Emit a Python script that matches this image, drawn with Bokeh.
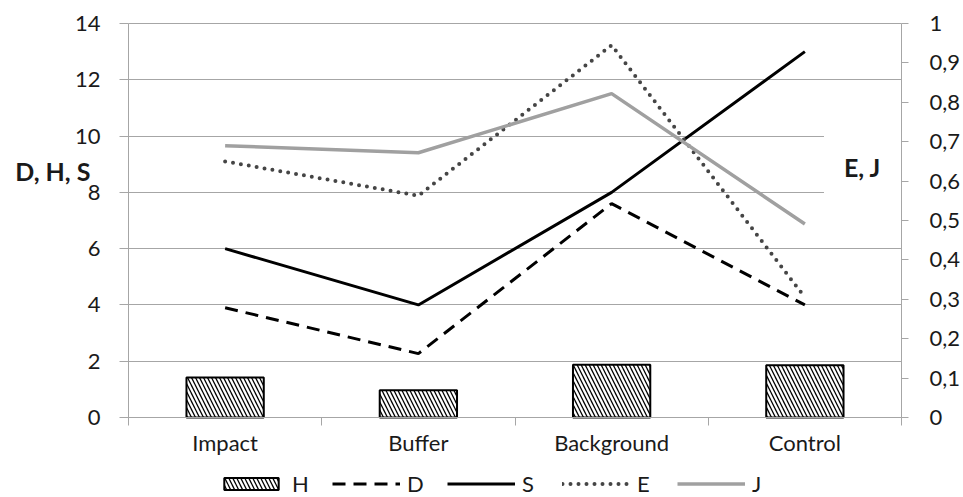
from bokeh.plotting import figure
from bokeh.models import Range1d, LinearAxis, FixedTicker, Legend, LegendItem, Label, Grid
from bokeh.embed import file_html
from bokeh.resources import INLINE
import numpy as np

categories = ["Impact", "Buffer", "Background", "Control"]
H = [1.42, 0.97, 1.87, 1.86]
D = [3.9, 2.27, 7.6, 4.0]
S = [6.0, 4.0, 8.0, 13.0]
E = [0.65, 0.563, 0.945, 0.305]
J = [0.69, 0.672, 0.822, 0.491]
left_ticks = [0, 2, 4, 6, 8, 10, 12, 14]
right_ticks = [0, 0.1, 0.2, 0.3, 0.4, 0.5, 0.6, 0.7, 0.8, 0.9, 1]
right_tick_labels = ["0", "0,1", "0,2", "0,3", "0,4", "0,5", "0,6", "0,7", "0,8", "0,9", "1"]
left_title = "D, H, S"
right_title = "E, J"
series_names = ["H", "D", "S", "E", "J"]

FONT = "Lato"
GRID = "#A6A6A6"
TXT = "#1a1a1a"
W, HT = 963, 497
PL, PR, PT, PB = 128, 901, 23, 417   # plot-area box in pixels (layout)
n = len(categories)
LMAX, RMAX = left_ticks[-1], right_ticks[-1]
xc = [float(v) for v in np.arange(n) + 0.5]
bounds = [float(v) for v in range(n + 1)]

kx = (PR - PL) / n
ky = (PB - PT) / LMAX
kr = (PB - PT) / RMAX
x_range = Range1d(-PL / kx, n + (W - PR) / kx)
y_range = Range1d(-(HT - PB) / ky, LMAX + PT / ky)
r_range = Range1d(-(HT - PB) / kr, RMAX + PT / kr)

p = figure(width=W, height=HT, output_backend="svg", toolbar_location=None,
           x_range=x_range, y_range=y_range, x_axis_type=None, y_axis_type=None)
p.min_border = 0
p.min_border_left = 0
p.min_border_right = 0
p.min_border_top = 0
p.min_border_bottom = 0
p.outline_line_color = None
p.extra_y_ranges = {"r": r_range}

# axes (drawn at fixed data locations)
ax_l = LinearAxis(ticker=FixedTicker(ticks=left_ticks), fixed_location=0, bounds=(0, LMAX))
ax_r = LinearAxis(y_range_name="r", ticker=FixedTicker(ticks=right_ticks), fixed_location=n,
                  bounds=(0, RMAX),
                  major_label_overrides=dict(zip(right_ticks, right_tick_labels)))
ax_b = LinearAxis(ticker=FixedTicker(ticks=xc, minor_ticks=bounds), fixed_location=0,
                  bounds=(0, n), major_label_overrides=dict(zip(xc, categories)))
for ax in (ax_l, ax_r, ax_b):
    ax.axis_line_color = GRID
    ax.major_tick_line_color = GRID
    ax.minor_tick_line_color = GRID
    ax.major_tick_in = 0
    ax.minor_tick_in = 0
    ax.minor_tick_out = 0
    ax.major_label_text_font = FONT
    ax.major_label_text_font_size = "22px"
    ax.major_label_text_color = TXT
ax_l.major_tick_out = 9
ax_l.major_label_standoff = 19
ax_r.major_tick_out = 7
ax_r.major_label_standoff = 21
ax_b.major_tick_out = 0
ax_b.minor_tick_out = 8
ax_b.major_label_standoff = 3
p.add_layout(ax_l, "left")
p.add_layout(ax_r, "right")
p.add_layout(ax_b, "below")

grid = Grid(dimension=1, ticker=FixedTicker(ticks=left_ticks), grid_line_color=GRID,
            grid_line_width=1, bounds=(0, LMAX), cross_bounds=(0, n))
p.add_layout(grid)

# glyphs
rH = p.vbar(x=xc, top=H, width=0.4, bottom=0, fill_color="white", line_color="black",
            line_width=2, hatch_pattern="\\", hatch_color="black", hatch_scale=8, hatch_weight=1.3)
rD = p.line(xc, D, line_color="black", line_width=3, line_dash="13 8")
rS = p.line(xc, S, line_color="black", line_width=3)
rE = p.line(xc, E, y_range_name="r", line_color="#454545", line_width=4, line_dash="0 8",
            line_cap="round")
rJ = p.line(xc, J, y_range_name="r", line_color="#A0A0A0", line_width=3.5)

legend = Legend(items=[LegendItem(label=nm, renderers=[r]) for nm, r in
                       zip(series_names, [rH, rD, rS, rE, rJ])],
                orientation="horizontal", location=(217, 0),
                glyph_width=68, glyph_height=15, label_standoff=7, spacing=20,
                padding=0, margin=0, border_line_color=None, background_fill_alpha=0,
                label_text_font=FONT, label_text_font_size="22px", label_text_color=TXT)
p.add_layout(legend, "center")

p.add_layout(Label(x=(90 - PL) / kx, y=(PB - 170) / ky, text=left_title, text_align="right",
                   text_baseline="middle", text_font=FONT, text_font_style="bold",
                   text_font_size="25px", text_color=TXT))
p.add_layout(Label(x=(862 - PL) / kx, y=(PB - 166) / kr, y_range_name="r", text=right_title,
                   text_align="center", text_baseline="middle", text_font=FONT,
                   text_font_style="bold", text_font_size="25px", text_color=TXT,
                   background_fill_color="white", padding=20))

open("out.html", "w").write(file_html(p, INLINE))
